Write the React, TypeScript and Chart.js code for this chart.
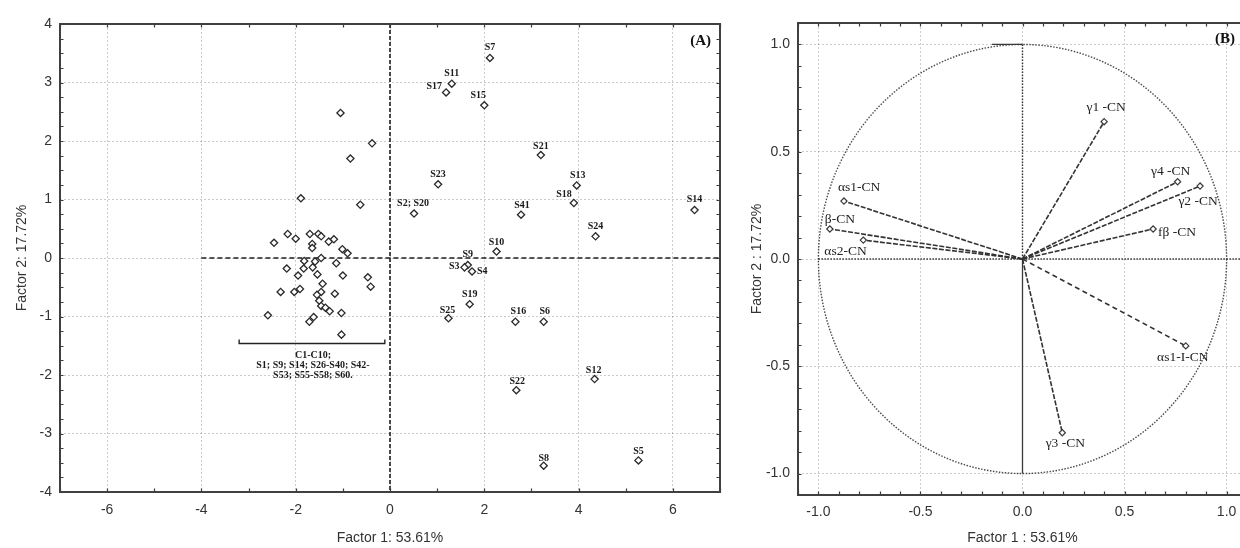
import React, { useEffect, useRef } from "react";
import { Chart, registerables } from "chart.js";

Chart.register(...registerables);

// ---------------- Panel A: factor scores ----------------
const clusterX = [-1.05, -0.38, -0.84, -1.89, -0.63, -2.17, -2.0, -2.46, -1.7, -1.52, -1.46, -1.65, -1.65, -1.3, -1.19, -1.01, -0.9, -1.82, -1.59, -1.46, -1.14, -2.19, -1.83, -1.64, -1.95, -1.54, -1.0, -1.43, -0.47, -0.41, -1.91, -2.03, -2.32, -1.46, -1.55, -1.17, -1.5, -1.46, -1.37, -1.28, -1.03, -2.59, -1.62, -1.71, -1.03];
const clusterY = [2.48, 1.96, 1.7, 1.02, 0.91, 0.41, 0.33, 0.26, 0.41, 0.41, 0.37, 0.24, 0.17, 0.28, 0.32, 0.15, 0.08, -0.05, -0.06, 0.0, -0.09, -0.18, -0.18, -0.16, -0.3, -0.28, -0.3, -0.44, -0.33, -0.49, -0.53, -0.58, -0.58, -0.58, -0.63, -0.61, -0.73, -0.82, -0.85, -0.91, -0.94, -0.98, -1.01, -1.09, -1.31];

const sampleNames = ["S7", "S11", "S17", "S15", "S21", "S23", "S13", "S18", "S2; S20", "S41", "S14", "S24", "S10", "S9", "S3", "S4", "S19", "S25", "S16", "S6", "S12", "S22", "S5", "S8"];
const sampleX = [2.12, 1.31, 1.19, 2.0, 3.2, 1.02, 3.96, 3.9, 0.51, 2.78, 6.46, 4.36, 2.26, 1.65, 1.58, 1.74, 1.69, 1.24, 2.66, 3.26, 4.34, 2.68, 5.27, 3.26];
const sampleY = [3.42, 2.98, 2.83, 2.61, 1.76, 1.26, 1.24, 0.94, 0.76, 0.74, 0.82, 0.37, 0.11, -0.12, -0.16, -0.23, -0.79, -1.03, -1.09, -1.09, -2.07, -2.26, -3.46, -3.55];

const groupLabel = ["C1-C10;", "S1; S9; S14; S26-S40; S42-", "S53; S55-S58; S60."];
const groupFrom = -3.2;
const groupTo = -0.11;
const groupAt = -1.46;

const xTicksA = [-6, -4, -2, 0, 2, 4, 6];
const yTicksA = [-4, -3, -2, -1, 0, 1, 2, 3, 4];

// ---------------- Panel B: loadings ----------------
const varNames = ["αs1-CN", "β-CN", "αs2-CN", "γ1 -CN", "γ4 -CN", "γ2 -CN", "fβ -CN", "αs1-I-CN", "γ3 -CN"];
const loadX = [-0.875, -0.944, -0.78, 0.4, 0.76, 0.87, 0.64, 0.8, 0.195];
const loadY = [0.27, 0.14, 0.088, 0.64, 0.36, 0.34, 0.14, -0.405, -0.81];
const ticksB = [-1, -0.5, 0, 0.5, 1];

// label placements (pixel offsets from the marker, alignment)
const samplePlace: [number, number, CanvasTextAlign][] = [
  [0, -11, "center"], [0, -10, "center"], [-4, -6, "right"], [-6, -10, "center"],
  [0, -9, "center"], [0, -10, "center"], [1, -10, "center"], [-2, -9, "right"],
  [-1, -10, "center"], [1, -9, "center"], [0, -11, "center"], [0, -10, "center"],
  [0, -9, "center"], [0, -11, "center"], [-5, -1, "right"], [5, 0, "left"],
  [0, -10, "center"], [-1, -8, "center"], [3, -10, "center"], [1, -10, "center"],
  [-1, -9, "center"], [1, -9, "center"], [0, -9, "center"], [0, -7, "center"],
];
const varPlace: [number, number, CanvasTextAlign][] = [
  [-6, -14, "left"], [-5, -10, "left"], [-39, 11, "left"], [2, -14, "center"],
  [-7, -10, "center"], [-2, 15, "center"], [5, 3, "left"], [-3, 12, "center"], [3, 11, "center"],
];
const varDash = [[5, 1.6], [5, 1.6], [5, 1.6], [5, 1.6], [5, 1.6], [5, 1.6], [5, 1.6], [5, 3.5], [5, 1.6]];

const SANS = "'Liberation Sans', Arial, sans-serif";
const SERIF = "'Liberation Serif', 'Times New Roman', serif";
const AXIS_COLOR = "#333";

function frameAndTicks(chart: any, xStep: number, yStep: number) {
  const { ctx, chartArea: a, scales } = chart;
  const xs = scales.x;
  const ys = scales.y;
  const t = 3.5;
  ctx.save();
  ctx.strokeStyle = "#3a3a3a";
  ctx.lineWidth = 1.2;
  ctx.setLineDash([]);
  ctx.beginPath();
  for (let k = Math.ceil(xs.min / xStep - 1e-6); k <= Math.floor(xs.max / xStep + 1e-6); k++) {
    const px = Math.round(xs.getPixelForValue(k * xStep)) + 0.5;
    ctx.moveTo(px, a.bottom);
    ctx.lineTo(px, a.bottom - t);
    ctx.moveTo(px, a.top);
    ctx.lineTo(px, a.top + t);
  }
  for (let k = Math.ceil(ys.min / yStep - 1e-6); k <= Math.floor(ys.max / yStep + 1e-6); k++) {
    const py = Math.round(ys.getPixelForValue(k * yStep)) + 0.5;
    ctx.moveTo(a.left, py);
    ctx.lineTo(a.left + t, py);
    ctx.moveTo(a.right, py);
    ctx.lineTo(a.right - t, py);
  }
  ctx.stroke();
  ctx.lineWidth = 2;
  ctx.strokeStyle = "#404040";
  ctx.strokeRect(a.left, a.top, a.right - a.left, a.bottom - a.top);
  ctx.restore();
}

function axisOpts(ticks: number[], min: number, max: number, title: string, size: number, horizontal: boolean, pad: number, titlePad: number, dec: number) {
  return {
    type: "linear" as const,
    min,
    max,
    afterBuildTicks: (s: any) => {
      s.ticks = ticks.map((v) => ({ value: v }));
    },
    afterFit: (s: any) => {
      if (horizontal) s.height = size;
      else s.width = size;
    },
    grid: { color: "rgba(0,0,0,0.2)", lineWidth: 1, drawTicks: false },
    border: { display: false, dash: [2, 2] },
    ticks: {
      padding: pad,
      color: AXIS_COLOR,
      font: { family: SANS, size: 14 },
      callback: (v: any) => Number(v).toFixed(dec),
    },
    title: {
      display: true,
      text: title,
      color: AXIS_COLOR,
      font: { family: SANS, size: 14 },
      padding: horizontal ? { top: 0, bottom: titlePad } : { top: titlePad, bottom: 0 },
    },
  };
}

const panelAPlugin = {
  id: "panelA",
  beforeDatasetsDraw(chart: any) {
    const { ctx, scales } = chart;
    const xs = scales.x;
    const ys = scales.y;
    ctx.save();
    ctx.strokeStyle = "#1e1e1e";
    ctx.lineWidth = 1.6;
    ctx.setLineDash([5, 3]);
    ctx.beginPath();
    ctx.moveTo(xs.getPixelForValue(-4), ys.getPixelForValue(0));
    ctx.lineTo(xs.getPixelForValue(7), ys.getPixelForValue(0));
    ctx.stroke();
    ctx.setLineDash([4, 2]);
    ctx.beginPath();
    ctx.moveTo(xs.getPixelForValue(0), ys.getPixelForValue(4));
    ctx.lineTo(xs.getPixelForValue(0), ys.getPixelForValue(-4));
    ctx.stroke();
    ctx.restore();
  },
  afterDraw(chart: any) {
    const { ctx, scales, chartArea: a } = chart;
    const xs = scales.x;
    const ys = scales.y;
    frameAndTicks(chart, 1, 0.25);
    ctx.save();
    ctx.fillStyle = "#1a1a1a";
    ctx.font = `bold 10px ${SERIF}`;
    ctx.textBaseline = "middle";
    sampleNames.forEach((n, i) => {
      const [dx, dy, al] = samplePlace[i];
      ctx.textAlign = al;
      ctx.fillText(n, xs.getPixelForValue(sampleX[i]) + dx, ys.getPixelForValue(sampleY[i]) + dy);
    });
    // group bracket
    const x1 = xs.getPixelForValue(groupFrom);
    const x2 = xs.getPixelForValue(groupTo);
    const yb = Math.round(ys.getPixelForValue(groupAt)) + 0.5;
    ctx.strokeStyle = "#222";
    ctx.lineWidth = 1.4;
    ctx.beginPath();
    ctx.moveTo(x1, yb - 4);
    ctx.lineTo(x1, yb);
    ctx.lineTo(x2, yb);
    ctx.lineTo(x2, yb - 4);
    ctx.stroke();
    ctx.textAlign = "center";
    groupLabel.forEach((l, i) => {
      ctx.fillText(l, (x1 + x2) / 2 + 1, yb + 12 + i * 10);
    });
    ctx.font = `bold 15px ${SERIF}`;
    ctx.fillStyle = "#111";
    ctx.textAlign = "right";
    ctx.fillText("(A)", a.right - 9, a.top + 17);
    ctx.restore();
  },
};

const panelBPlugin = {
  id: "panelB",
  beforeDatasetsDraw(chart: any) {
    const { ctx, scales, chartArea: a } = chart;
    const xs = scales.x;
    const ys = scales.y;
    const cx = xs.getPixelForValue(0);
    const cy = ys.getPixelForValue(0);
    const rx = xs.getPixelForValue(1) - cx;
    const ry = cy - ys.getPixelForValue(1);
    ctx.save();
    ctx.strokeStyle = "#4a4a4a";
    ctx.lineWidth = 1.4;
    ctx.setLineDash([1.5, 1.5]);
    ctx.beginPath();
    ctx.ellipse(cx, cy, rx, ry, 0, 0, Math.PI * 2);
    ctx.stroke();
    ctx.strokeStyle = "#333";
    ctx.beginPath();
    ctx.moveTo(xs.getPixelForValue(-1), cy);
    ctx.lineTo(a.right, cy);
    ctx.moveTo(cx, cy);
    ctx.lineTo(cx, ys.getPixelForValue(1));
    ctx.stroke();
    ctx.setLineDash([]);
    ctx.lineWidth = 1.3;
    ctx.strokeStyle = "#3a3a3a";
    ctx.beginPath();
    ctx.moveTo(cx, cy);
    ctx.lineTo(cx, ys.getPixelForValue(-1));
    ctx.moveTo(xs.getPixelForValue(-0.15), ys.getPixelForValue(1));
    ctx.lineTo(cx, ys.getPixelForValue(1));
    ctx.stroke();
    ctx.restore();
  },
  afterDraw(chart: any) {
    const { ctx, scales, chartArea: a } = chart;
    const xs = scales.x;
    const ys = scales.y;
    frameAndTicks(chart, 0.1, 0.1);
    ctx.save();
    ctx.fillStyle = "#222";
    ctx.font = `13.5px ${SERIF}`;
    ctx.textBaseline = "middle";
    varNames.forEach((n, i) => {
      const [dx, dy, al] = varPlace[i];
      ctx.textAlign = al;
      ctx.fillText(n, xs.getPixelForValue(loadX[i]) + dx, ys.getPixelForValue(loadY[i]) + dy);
    });
    ctx.font = `bold 15px ${SERIF}`;
    ctx.fillStyle = "#111";
    ctx.textAlign = "center";
    ctx.fillText("(B)", 1225 - 745, a.top + 16);
    ctx.restore();
  },
};

function PanelA() {
  const ref = useRef<HTMLCanvasElement>(null);
  useEffect(() => {
    const pt = { pointStyle: "rectRot", pointRadius: 3.6, pointBorderWidth: 1.3, pointBorderColor: "#2a2a2a", pointBackgroundColor: "#fff" };
    const chart = new Chart(ref.current as HTMLCanvasElement, {
      type: "scatter",
      data: {
        datasets: [
          { data: clusterX.map((x, i) => ({ x, y: clusterY[i] })), ...pt } as any,
          { data: sampleX.map((x, i) => ({ x, y: sampleY[i] })), ...pt } as any,
        ],
      },
      options: {
        animation: false,
        responsive: false,
        events: [],
        layout: { padding: { top: 24, right: 20, left: 0, bottom: 0 } },
        plugins: { legend: { display: false }, tooltip: { enabled: false } },
        scales: {
          x: axisOpts(xTicksA, -7, 7, "Factor 1: 53.61%", 56, true, 10, 1.6, 0) as any,
          y: axisOpts(yTicksA, -4, 4, "Factor 2: 17.72%", 60, false, 8, 14, 0) as any,
        },
      },
      plugins: [panelAPlugin],
    });
    return () => chart.destroy();
  }, []);
  return <canvas ref={ref} width={740} height={548} style={{ position: "absolute", left: 0, top: 0 }} />;
}

function PanelB() {
  const ref = useRef<HTMLCanvasElement>(null);
  useEffect(() => {
    const datasets = varNames.map((n, i) => ({
      label: n,
      data: [{ x: 0, y: 0 }, { x: loadX[i], y: loadY[i] }],
      showLine: true,
      borderColor: "#333",
      borderWidth: 1.6,
      borderDash: varDash[i],
      pointStyle: "rectRot",
      pointRadius: [0, 3.1],
      pointBorderWidth: 1.2,
      pointBorderColor: "#3a3a3a",
      pointBackgroundColor: "#fff",
    }));
    const chart = new Chart(ref.current as HTMLCanvasElement, {
      type: "scatter",
      data: { datasets: datasets as any },
      options: {
        animation: false,
        responsive: false,
        events: [],
        layout: { padding: { top: 23, right: 13, left: 0, bottom: 0 } },
        plugins: { legend: { display: false }, tooltip: { enabled: false } },
        scales: {
          x: axisOpts(ticksB, -1.1, 1.1, "Factor 1 : 53.61%", 53, true, 8.5, 1.6, 1) as any,
          y: axisOpts(ticksB, -1.1, 1.1, "Factor 2 : 17.72%", 53, false, 8, 3.3, 1) as any,
        },
      },
      plugins: [panelBPlugin],
    });
    return () => chart.destroy();
  }, []);
  return <canvas ref={ref} width={515} height={548} style={{ position: "absolute", left: 745, top: 0 }} />;
}

export default function App() {
  return (
    <div style={{ position: "fixed", left: 0, top: 0, width: 1240, height: 548, overflow: "hidden", background: "#fff" }}>
      <PanelA />
      <PanelB />
    </div>
  );
}
